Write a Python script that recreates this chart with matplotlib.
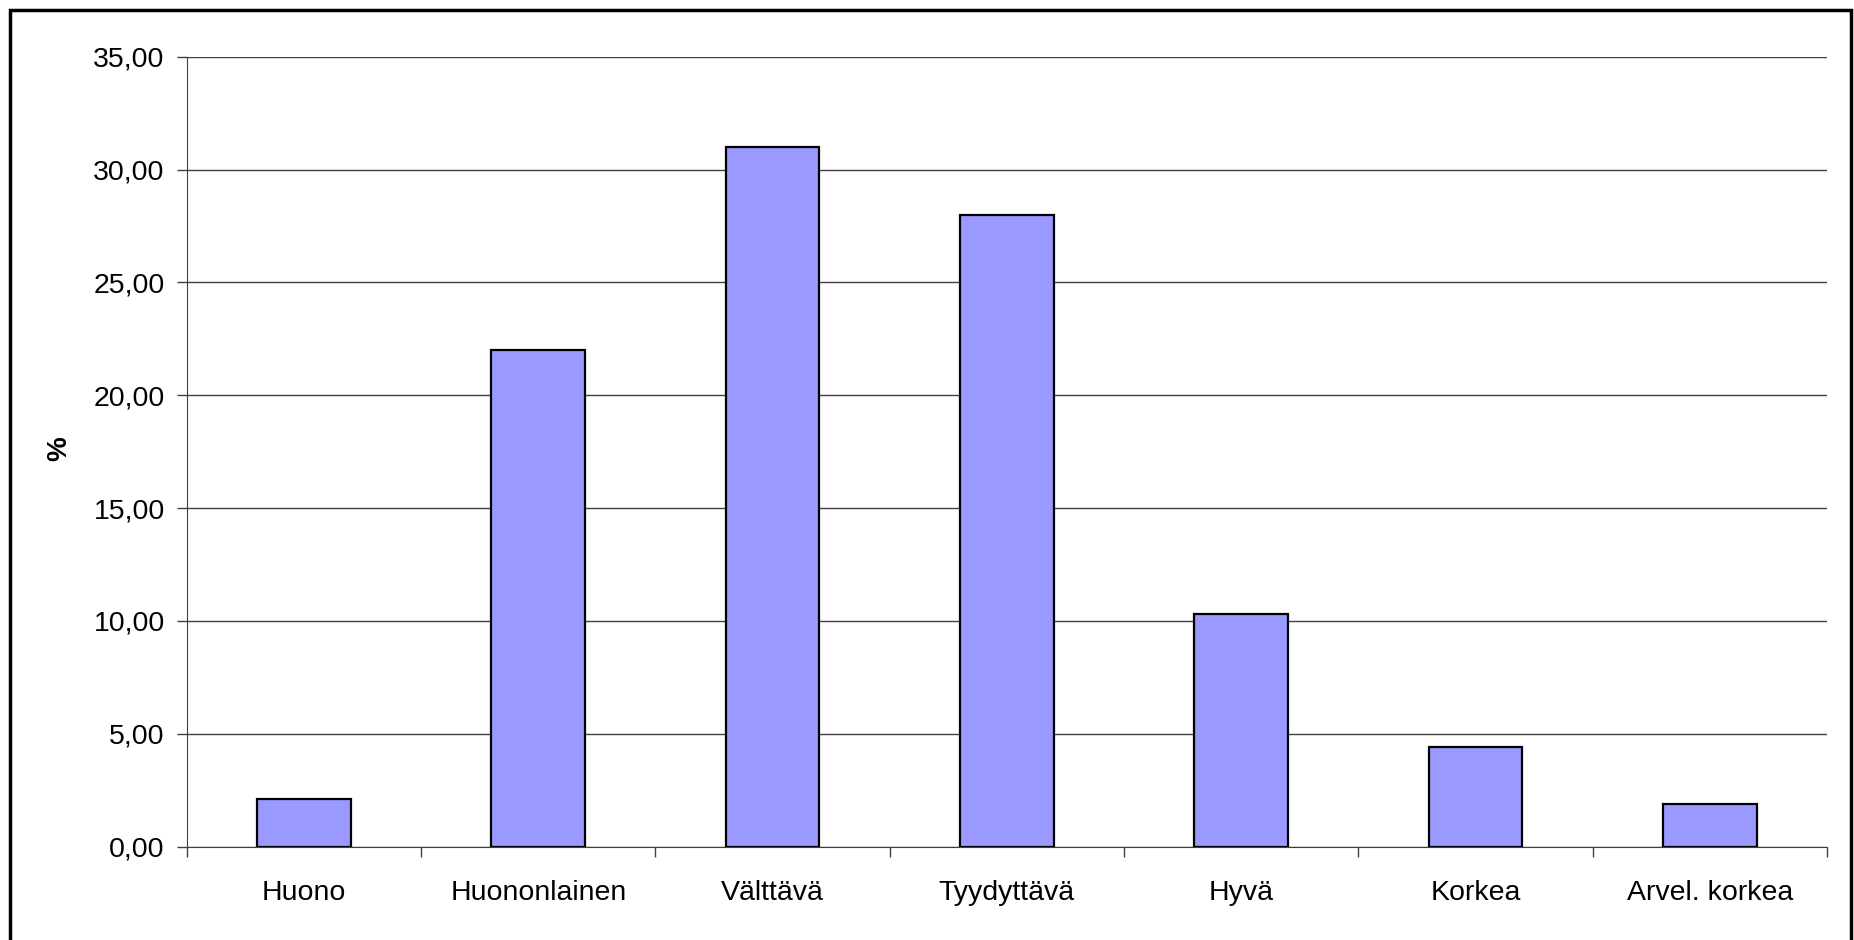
import numpy as np
import matplotlib.pyplot as plt
from matplotlib.patches import Rectangle
from matplotlib.ticker import FuncFormatter

categories = ["Huono", "Huononlainen", "Välttävä", "Tyydyttävä", "Hyvä", "Korkea", "Arvel. korkea"]
values = [2.1, 22.0, 31.0, 28.0, 10.3, 4.4, 1.9]
yticks = [0, 5, 10, 15, 20, 25, 30, 35]


def main():
    plt.rcParams['font.family'] = ['Liberation Sans', 'DejaVu Sans']

    fig = plt.figure(figsize=(18.54, 9.40), dpi=100)
    ax = fig.add_axes([0.1008, 0.0994, 0.8846, 0.8402])

    x = np.arange(len(categories))
    ax.bar(x, values, width=0.4, color="#9999FF", edgecolor="black", linewidth=1.6, zorder=3)

    ax.set_xlim(-0.5, len(categories) - 0.5)
    ax.set_ylim(0, 35)
    ax.set_yticks(yticks)
    ax.yaxis.set_major_formatter(FuncFormatter(lambda v, p: f"{v:.2f}".replace(".", ",")))
    ax.grid(axis="y", color="#404040", linewidth=1.0, zorder=0)

    ax.set_xticks(x)
    ax.set_xticklabels(categories)
    ax.set_xticks(np.arange(-0.5, len(categories)), minor=True)
    ax.tick_params(axis="x", which="major", length=0, pad=24, labelsize=20.5)
    ax.tick_params(axis="x", which="minor", length=7, width=1, color="#404040")
    ax.tick_params(axis="y", length=7, width=1, color="#404040", pad=9, labelsize=20.5)

    for s in ["top", "right"]:
        ax.spines[s].set_visible(False)
    ax.spines["left"].set_color("#404040")
    ax.spines["bottom"].set_color("#404040")
    ax.spines["bottom"].set_zorder(4)

    fig.text(59 / 1854, 1 - 449 / 940, "%", rotation=90, fontsize=20, fontweight="bold",
             ha="center", va="center")

    # outer frame of the chart area
    fig.patches.append(Rectangle((10 / 1854, -0.05), 1841 / 1854, 1.05 - 10 / 940,
                                 transform=fig.transFigure, fill=False,
                                 edgecolor="black", linewidth=2.5))

    fig.savefig("out.png", dpi=100)


if __name__ == '__main__':
    main()
